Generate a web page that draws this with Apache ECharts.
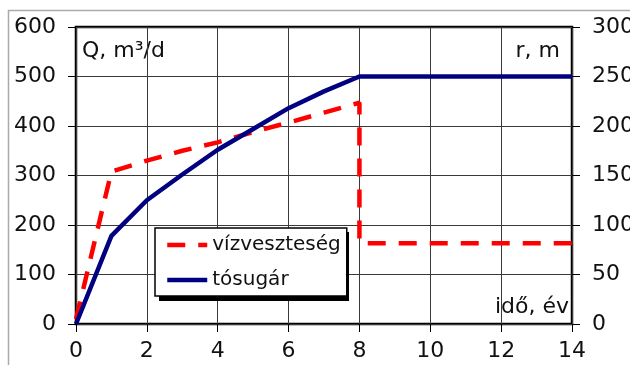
<!DOCTYPE html>
<html>
<head>
<meta charset="utf-8">
<script src="https://cdn.jsdelivr.net/npm/echarts@6/dist/echarts.min.js"></script>
<style>
  html, body { margin: 0; padding: 0; background: #fff; }
  #chart { width: 630px; height: 365px; }
</style>
</head>
<body>
<div id="chart"></div>
<script>
// Time axis (years) and the two measured series
const lossYears   = [0, 1, 2, 3, 4, 5, 6, 7, 8, 8, 14];
const lossQ       = [10, 308, 330, 350, 367, 388, 407, 427, 447, 163, 163];   // m³/d
const radiusYears = [0, 1, 2, 3, 4, 5, 6, 7, 8, 14];
const radiusR     = [0, 89, 125, 151, 176, 197, 218, 235, 250, 250];          // m

const seriesNames = ['vízveszteség', 'tósugár'];
const qTicks = { min: 0, max: 600, step: 100 };
const rTicks = { min: 0, max: 300, step: 50 };
const tTicks = { min: 0, max: 14, step: 2 };

const FONT = 'DejaVu Sans';
const TEXT = '#111';

const lossData = lossYears.map((t, i) => [t, lossQ[i]]);
const radiusData = radiusYears.map((t, i) => [t, radiusR[i]]);

const chart = echarts.init(document.getElementById('chart'), null, { renderer: 'canvas' });

const labelStyle = { color: TEXT, fontFamily: FONT, fontSize: 22 };

// legend box placement (the drop shadow is a plain rect drawn behind it)
const legendBox = { left: 155, top: 228, width: 190, height: 69, shadow: 4 };

chart.setOption({
  backgroundColor: '#fff',
  animation: false,
  grid: {
    left: 76, right: 58, top: 27, bottom: 41,
    outerBoundsMode: 'none',
    show: true,
    borderColor: '#000',
    borderWidth: 2.5,
    backgroundColor: 'transparent'
  },
  xAxis: {
    type: 'value',
    min: tTicks.min, max: tTicks.max, interval: tTicks.step,
    axisLine: { show: false },
    axisTick: { show: true, inside: false, length: 8, lineStyle: { color: '#000', width: 1 } },
    axisLabel: Object.assign({ margin: 16 }, labelStyle),
    splitLine: { show: true, lineStyle: { color: '#3a3a3a', width: 1 } }
  },
  yAxis: [
    {
      type: 'value', position: 'left',
      min: qTicks.min, max: qTicks.max, interval: qTicks.step,
      axisLine: { show: false },
      axisTick: { show: true, inside: false, length: 8, lineStyle: { color: '#000', width: 1 } },
      axisLabel: Object.assign({ margin: 20 }, labelStyle),
      splitLine: { show: true, lineStyle: { color: '#3a3a3a', width: 1 } }
    },
    {
      type: 'value', position: 'right',
      min: rTicks.min, max: rTicks.max, interval: rTicks.step,
      axisLine: { show: false },
      axisTick: { show: true, inside: false, length: 8, lineStyle: { color: '#000', width: 1 } },
      axisLabel: Object.assign({ margin: 20 }, labelStyle),
      splitLine: { show: false }
    }
  ],
  legend: {
    orient: 'vertical',
    left: legendBox.left, top: legendBox.top,
    padding: [7, 6, 6, 10],
    itemWidth: 40, itemHeight: 20, itemGap: 15,
    backgroundColor: '#fff',
    borderColor: '#000',
    borderWidth: 1.5,
    itemStyle: { opacity: 0, color: 'transparent', borderWidth: 0 },
    lineStyle: { width: 4.5 },
    textStyle: { color: TEXT, fontFamily: FONT, fontSize: 20 },
    z: 6,
    data: seriesNames
  },
  series: [
    {
      name: seriesNames[0],
      type: 'line',
      yAxisIndex: 0,
      data: lossData,
      symbol: 'none',
      color: '#ff0000',
      lineStyle: { color: '#ff0000', width: 4.5, type: [18, 13], cap: 'butt' },
      z: 3
    },
    {
      name: seriesNames[1],
      type: 'line',
      yAxisIndex: 1,
      data: radiusData,
      symbol: 'none',
      color: '#000080',
      lineStyle: { color: '#000080', width: 4.5 },
      z: 4
    }
  ],
  graphic: [
    {
      type: 'rect', silent: true, z: -10,
      shape: { x: 8.5, y: 10.5, width: 700, height: 500 },
      style: { fill: 'none', stroke: '#aaaaaa', lineWidth: 1.5 }
    },
    {
      type: 'rect', silent: true, z: 5,
      shape: {
        x: legendBox.left + legendBox.shadow,
        y: legendBox.top + legendBox.shadow,
        width: legendBox.width,
        height: legendBox.height
      },
      style: { fill: '#000' }
    },
    {
      type: 'text', silent: true,
      style: { x: 82, y: 51, text: 'Q, m³/d', fill: TEXT, font: '22px "' + FONT + '"', textAlign: 'left', textVerticalAlign: 'middle' }
    },
    {
      type: 'text', silent: true,
      style: { x: 560, y: 51, text: 'r, m', fill: TEXT, font: '22px "' + FONT + '"', textAlign: 'right', textVerticalAlign: 'middle' }
    },
    {
      type: 'text', silent: true,
      style: { x: 569, y: 307, text: 'idő, év', fill: TEXT, font: '22px "' + FONT + '"', textAlign: 'right', textVerticalAlign: 'middle' }
    }
  ]
});
</script>
</body>
</html>
